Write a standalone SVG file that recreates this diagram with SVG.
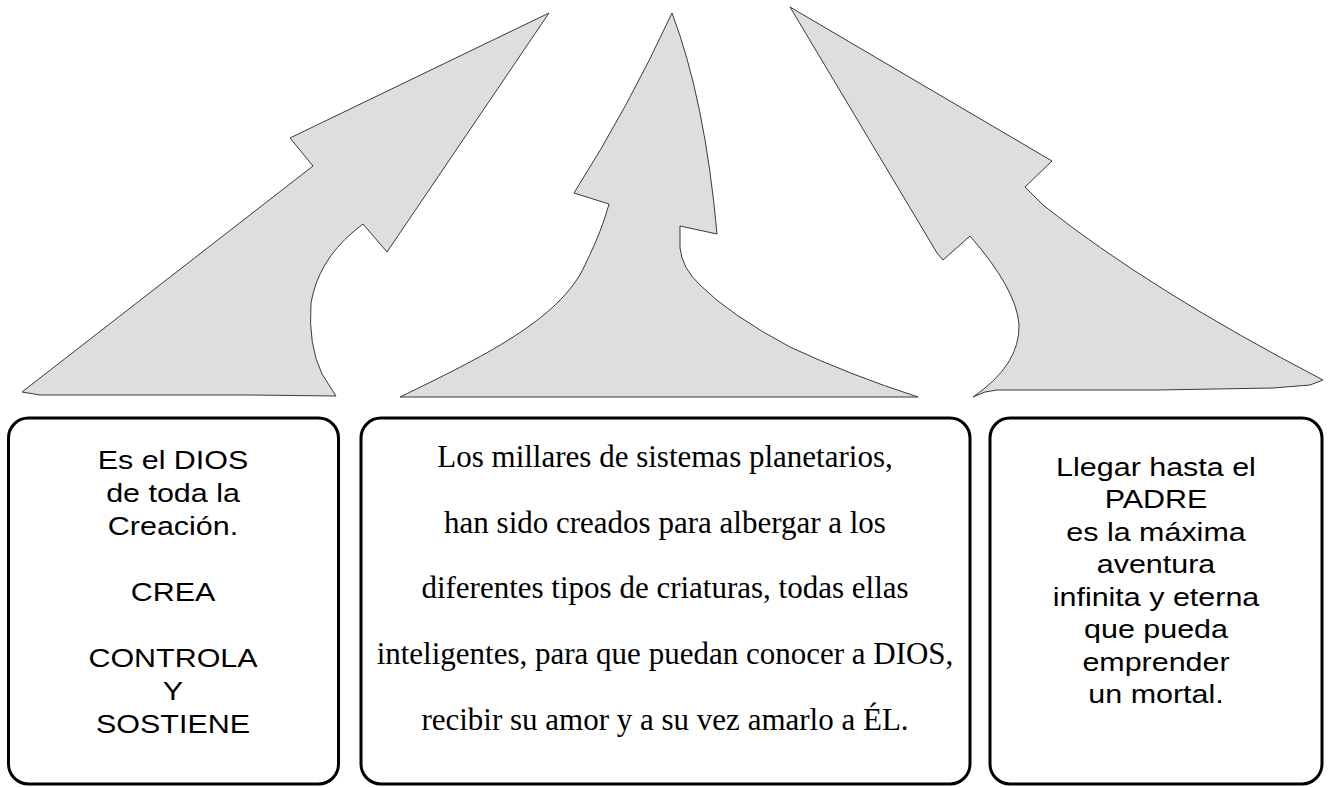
<svg xmlns="http://www.w3.org/2000/svg" width="1336" height="787" viewBox="0 0 1336 787">
<style>
.arrow{fill:#dedede;stroke:#3a3a3a;stroke-width:1;stroke-linejoin:miter}
.box{fill:#ffffff;stroke:#000000;stroke-width:3}
.sans{font-family:"Liberation Sans",Arial,sans-serif;font-size:25.6px;fill:#000;text-anchor:middle}
.serif{font-family:"Liberation Serif","Times New Roman",serif;font-size:31px;fill:#000;text-anchor:middle}
</style>
<rect x="0" y="0" width="1336" height="787" fill="#ffffff"/>
<g id="connectors">
  <path id="arrow-left" class="arrow" d="M22,392 L313,166 L290,138 L549,13 L387,252 L363,224 L353,232 Q318,262 311,303 Q308,345 322,374 L336,396 L250,395 L40,395 Z"/>
  <path id="arrow-middle" class="arrow" d="M400,397 C480,358 560,320 585,265 C598,238 604,222 609,204 L574,193 Q628,108 672,13 Q705,100 717,234 L680,226 L680,248 Q682,268 700,285 Q730,315 790,347 Q850,375 918,397 Z"/>
  <path id="arrow-right" class="arrow" d="M973,397 Q1020,365 1019,325 Q1017,290 970,236 L943,260 L937,253 L790,7 L1052,161 L1025,187 L1043,205 Q1150,290 1323,380 L1310,385 L1273,388 L1157,390 L997,390 L985,392 Z"/>
</g>
<g id="box-left">
  <rect class="box" x="8.5" y="418" width="330" height="366" rx="20" ry="20"/>
  <g transform="translate(173 0) scale(1.19 1)">
    <text class="sans" x="0" y="469">Es el DIOS</text>
    <text class="sans" x="0" y="502">de toda la</text>
    <text class="sans" x="0" y="535">Creación.</text>
    <text class="sans" x="0" y="601">CREA</text>
    <text class="sans" x="0" y="667">CONTROLA</text>
    <text class="sans" x="0" y="700">Y</text>
    <text class="sans" x="0" y="733">SOSTIENE</text>
  </g>
</g>
<g id="box-middle">
  <rect class="box" x="361" y="418" width="609" height="366" rx="20" ry="20"/>
  <text class="serif" x="665" y="467">Los millares de sistemas planetarios,</text>
  <text class="serif" x="665" y="533">han sido creados para albergar a los</text>
  <text class="serif" x="665" y="598">diferentes tipos de criaturas, todas ellas</text>
  <text class="serif" x="665" y="664">inteligentes, para que puedan conocer a DIOS,</text>
  <text class="serif" x="665" y="730">recibir su amor y a su vez amarlo a ÉL.</text>
</g>
<g id="box-right">
  <rect class="box" x="990" y="418" width="332" height="366" rx="20" ry="20"/>
  <g transform="translate(1156 0) scale(1.19 1)">
    <text class="sans" x="0" y="476">Llegar hasta el</text>
    <text class="sans" x="0" y="508">PADRE</text>
    <text class="sans" x="0" y="541">es la máxima</text>
    <text class="sans" x="0" y="573">aventura</text>
    <text class="sans" x="0" y="606">infinita y eterna</text>
    <text class="sans" x="0" y="638">que pueda</text>
    <text class="sans" x="0" y="671">emprender</text>
    <text class="sans" x="0" y="703">un mortal.</text>
  </g>
</g>
</svg>
